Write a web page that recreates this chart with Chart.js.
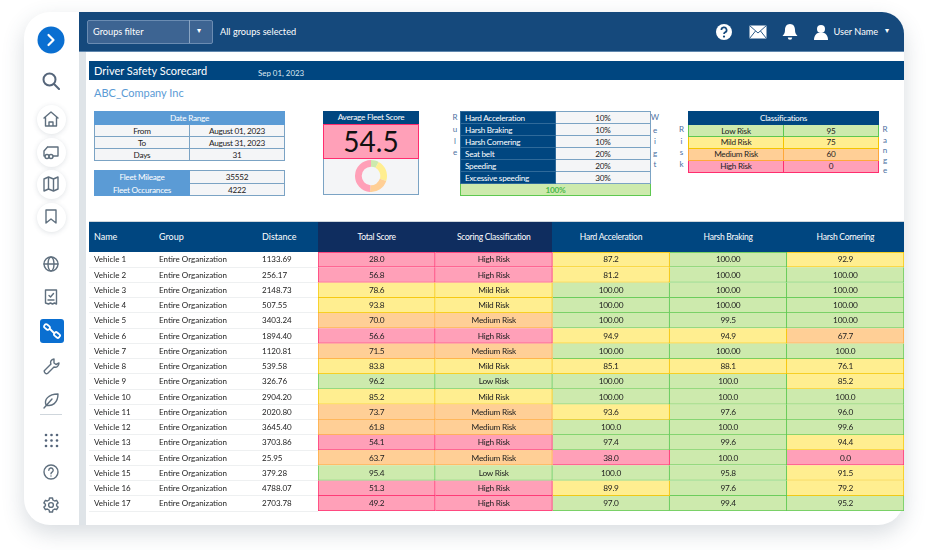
<!DOCTYPE html>
<html><head><meta charset="utf-8">
<script src="https://cdn.jsdelivr.net/npm/chart.js@4"></script>
<style>
html,body{margin:0;padding:0;background:#fff;width:927px;height:550px;overflow:hidden;font-family:Lato,"Open Sans",sans-serif;color:#222}
.a{position:absolute}
#card{left:24px;top:12px;width:880px;height:513px;border-radius:26px;background:#fff;box-shadow:0 8px 22px rgba(60,80,100,.2)}
#strip{left:79px;top:52px;width:7px;height:473px;background:#dfe4e8}
#top{left:79px;top:12px;width:825px;height:40px;background:#15497c;border-top-right-radius:22px;border-bottom:1px solid #5f86ad;box-sizing:border-box}
#filter{left:86.5px;top:19.5px;width:126px;height:24px;background:#3d6492;border:1px solid #6b8cb2;box-sizing:border-box;border-radius:2px}
.w{color:#fff;font-size:9.2px;white-space:nowrap}
table{border-collapse:collapse;table-layout:fixed}
.sm{position:absolute;font-size:8.2px;letter-spacing:-.25px}
.sm td{text-align:center;padding:0;border:1px solid #7ba3c4;background:#f4f5f7;overflow:hidden;white-space:nowrap;box-sizing:border-box;line-height:10px}
.sm td.h{background:#5b9bd5;color:#fff;border-color:#5b9bd5}
.sm td.d{background:#004680;color:#fff;border-color:#2f6a9a;text-align:left;padding-left:4px}
.let{position:absolute;font-size:8px;color:#4a6f9f;width:10px;text-align:center;line-height:10px}
#rows{display:grid;left:89px;top:252.3px;width:815px;grid-template-columns:70px 103px 56px repeat(5,117.2px);grid-template-rows:repeat(17,15.25px);color:#222}
#rows div{white-space:nowrap;overflow:hidden;line-height:14.6px}
#rows div.l{text-align:left;border-bottom:1px solid #eef0f1;font-size:8px;box-sizing:border-box}
#rows div.c{text-align:center;font-size:8.3px;letter-spacing:-.25px}
.hd{position:absolute;top:222px;height:30px;line-height:30px;color:#fff;white-space:nowrap}
svg.i{position:absolute;fill:none;stroke:#5f6f7e;stroke-width:1.4;stroke-linecap:round;stroke-linejoin:round}
.dot{position:absolute;width:29px;height:29px;border-radius:50%;background:#fff;box-shadow:0 1px 5px rgba(60,80,100,.16)}
</style></head><body>
<div class="a" id="card"></div>
<div class="a" id="top"></div>
<div class="a" id="strip"></div>
<div class="a" id="filter"></div>
<div class="a" style="left:189px;top:20px;width:1px;height:23px;background:#8aa5c3"></div>
<div class="a w" style="left:93px;top:26px;">Groups filter</div>
<div class="a w" style="left:197px;top:25px;font-size:8px">▾</div>
<div class="a w" style="left:220px;top:26px;">All groups selected</div>
<div class="a w" style="left:833.5px;top:26px;">User Name</div>
<div class="a w" style="left:885px;top:25px;font-size:8px">▾</div>

<svg class="a" style="left:714px;top:22px" width="20" height="20" viewBox="0 0 20 20"><circle cx="10" cy="10" r="8" fill="#fff"/><path d="M7.4 8a2.6 2.6 0 1 1 3.8 2.3c-.9.5-1.2 1-1.2 1.8" fill="none" stroke="#15497c" stroke-width="1.7"/><circle cx="10" cy="14.6" r="1.1" fill="#15497c"/></svg>
<svg class="a" style="left:749px;top:25px" width="18" height="14" viewBox="0 0 18 14"><rect x=".5" y=".5" width="17" height="13" fill="#fff"/><path d="M.5 .5 9 8 17.500 .5M.5 13.500 6.500 6M17.500 13.500 11.500 6" fill="none" stroke="#15497c" stroke-width=".9"/></svg>
<svg class="a" style="left:781px;top:23px" width="18" height="18" viewBox="0 0 18 18"><path d="M9 1c3.500 0 5 2.800 5 6 0 3 1 4.500 2.500 6h-15C3 11.500 4 10 4 7c0-3.200 1.500-6 5-6z" fill="#fff"/><path d="M6.800 14.500a2.200 2.200 0 0 0 4.400 0z" fill="#fff"/></svg>
<svg class="a" style="left:813px;top:24px" width="16" height="16" viewBox="0 0 16 16"><circle cx="8" cy="5" r="4" fill="#fff"/><path d="M1 16c0-4 2-6.500 4-7h6c2 .5 4 3 4 7z" fill="#fff"/></svg>

<svg class="a" style="left:37px;top:26px" width="28" height="28" viewBox="0 0 28 28"><circle cx="14" cy="14" r="13.500" fill="#0a6fd1"/><path d="M11.500 9l5 5-5 5" fill="none" stroke="#fff" stroke-width="2.200" stroke-linecap="round" stroke-linejoin="round"/></svg>
<svg class="i" style="left:42px;top:72px;stroke-width:2;stroke:#55657a" width="18" height="18" viewBox="0 0 18 18"><circle cx="7.500" cy="7.500" r="6"/><path d="M12 12l5 5"/></svg>
<div id="dots"></div>
<svg class="i" style="left:43px;top:111px" width="16" height="16" viewBox="0 0 16 16"><path d="M1 7 8 1l7 6M2.500 6v9h11V6M6 15v-4h4v4"/></svg>
<svg class="i" style="left:43px;top:144px" width="16" height="16" viewBox="0 0 16 16"><path d="M4.500 3H15v9H10M1 12V7l3.500-4M1 12h1"/><circle cx="4" cy="12.500" r="2"/><circle cx="8" cy="12.500" r="2"/></svg>
<svg class="i" style="left:43px;top:176px" width="16" height="16" viewBox="0 0 16 16"><path d="M1 3l4.500-2 5 2L15 1v12l-4.500 2-5-2L1 15zM5.500 1v12M10.500 3v12"/></svg>
<svg class="i" style="left:44px;top:209px" width="14" height="16" viewBox="0 0 14 16"><path d="M2 1h10v13l-5-4-5 4z"/></svg>
<svg class="i" style="left:43px;top:256px" width="16" height="16" viewBox="0 0 16 16"><circle cx="8" cy="8" r="7"/><ellipse cx="8" cy="8" rx="3" ry="7"/><path d="M1 8h14"/></svg>
<svg class="i" style="left:44px;top:289px" width="14" height="16" viewBox="0 0 14 16"><path d="M1.500 1h11v14l-2-1-2 1-2-1-2 1-3-1zM4 11h6M5 6.500l1.500 1.500L9.500 4.500"/></svg>
<div class="a" style="left:40px;top:319px;width:24px;height:24px;border-radius:3px;background:#0a6fd1"></div>
<svg class="i" style="left:43px;top:322px;stroke:#fff;stroke-width:1.800" width="18" height="18" viewBox="0 0 18 18"><rect x="1" y="3" width="6" height="4" rx="1.500" transform="rotate(40 4 5)"/><rect x="11" y="11" width="6" height="4" rx="1.500" transform="rotate(40 14 13)"/><path d="M7 7l4 4"/></svg>
<svg class="i" style="left:43px;top:358px" width="17" height="17" viewBox="0 0 17 17"><path d="M11 1c-3 .3-4 3-3 5L1.500 12.500c-1 1.500 1.500 4 3 3L11 9c2.500 1 5-1 5-4l-3 1.500-2-1.500z"/></svg>
<svg class="i" style="left:43px;top:392px" width="17" height="17" viewBox="0 0 17 17"><path d="M3 13C1 8 5 2 15 2c0 9-6 13-12 11zM1 16 9 7"/></svg>
<div class="a" style="left:40px;top:414px;width:22px;height:1px;background:#cfd6dc"></div>
<svg class="a" style="left:44px;top:433px" width="15" height="15" viewBox="0 0 15 15" fill="#55657a"><circle cx="2" cy="2" r="1.300"/><circle cx="7.500" cy="2" r="1.300"/><circle cx="13" cy="2" r="1.300"/><circle cx="2" cy="7.500" r="1.300"/><circle cx="7.500" cy="7.500" r="1.300"/><circle cx="13" cy="7.500" r="1.300"/><circle cx="2" cy="13" r="1.300"/><circle cx="7.500" cy="13" r="1.300"/><circle cx="13" cy="13" r="1.300"/></svg>
<svg class="i" style="left:43px;top:464px" width="16" height="16" viewBox="0 0 16 16"><circle cx="8" cy="8" r="7"/><path d="M5.800 6.200a2.200 2.200 0 1 1 3.300 1.900C8.300 8.600 8 9 8 9.800M8 12v.1"/></svg>
<svg class="i" style="left:43px;top:497px" width="16" height="16" viewBox="0 0 16 16"><circle cx="8" cy="8" r="2.400"/><path d="M6.500 1h3l.4 2 1.800 1 1.900-.7 1.500 2.600-1.500 1.300v1.600l1.500 1.300-1.500 2.600-1.900-.7-1.800 1-.4 2h-3l-.4-2-1.800-1-1.900.7L.9 10.100l1.500-1.300V7.200L.9 5.900l1.500-2.600 1.900.7 1.800-1z"/></svg>

<div class="a" style="left:89px;top:61px;width:815px;height:19px;background:#004680"></div>
<div class="a" style="left:94px;top:63px;color:#fff;font-size:11px;line-height:16px">Driver Safety Scorecard</div>
<div class="a" style="left:258px;top:68px;color:#dde8f2;font-size:7.900px;line-height:11px">Sep 01, 2023</div>
<div class="a" style="left:94px;top:85px;color:#5b9bd5;font-size:11px;line-height:16px">ABC_Company Inc</div>

<div id="small"></div>

<div class="a" style="left:323px;top:111px;width:96px;height:13px;background:#004680;color:#fff;font-size:8.200px;letter-spacing:-.25px;line-height:13px;text-align:center">Average Fleet Score</div>
<div class="a" id="scoreBox" style="left:323px;top:124px;width:96px;height:35px;box-sizing:border-box;background:#ffa0b8;border:1px solid #ff2d6e;color:#111;font-size:28px;line-height:33px;text-align:center"></div>
<div class="a" style="left:323px;top:159px;width:96px;height:36px;box-sizing:border-box;background:#f4f5f7;border:1px solid #7ba3c4;border-top:0"></div>
<canvas class="a" id="donut" style="left:355px;top:160px"></canvas>

<div class="a" style="left:89px;top:221px;width:815px;height:31px;background:#004680;border-top:1px solid #cfd6dc;box-sizing:border-box"></div>
<div class="a" style="left:318px;top:222px;width:234px;height:30px;background:#0f2d5f"></div>
<canvas class="a" id="heat" style="left:318px;top:252px"></canvas>
<div id="head"></div>
<div id="rows" class="a"></div>

<script>
const riskLabels = ['Low Risk','Mild Risk','Medium Risk','High Risk'];
const riskRanges = [95,75,60,0];
const donutShares = [8,22,21,49];
const fillColors = ['#cdeaad','#ffee90','#ffcf96','#ffa0b8'];
const edgeColors = ['#5ec850','#f5c400','#ffa83a','#ff2d6e'];

const ruleNames = ['Hard Acceleration','Harsh Braking','Harsh Cornering','Seat belt','Speeding','Excessive speeding'];
const ruleWeights = ['10%','10%','10%','20%','20%','30%'];
const ruleTotal = '100%';
const dateRange = [['From','August 01, 2023'],['To','August 31, 2023'],['Days','31']];
const fleetStats = [['Fleet Mileage','35552'],['Fleet Occurances','4222']];
const averageScore = '54.5';

const vehicles = ['Vehicle 1','Vehicle 2','Vehicle 3','Vehicle 4','Vehicle 5','Vehicle 6','Vehicle 7','Vehicle 8','Vehicle 9','Vehicle 10','Vehicle 11','Vehicle 12','Vehicle 13','Vehicle 14','Vehicle 15','Vehicle 16','Vehicle 17'];
const groupName = 'Entire Organization';
const distances = ['1133.69','256.17','2148.73','507.55','3403.24','1894.40','1120.81','539.58','326.76','2904.20','2020.80','3645.40','3703.86','25.95','379.28','4788.07','2703.78'];
const totalScore = ['28.0','56.8','78.6','93.8','70.0','56.6','71.5','83.8','96.2','85.2','73.7','61.8','54.1','63.7','95.4','51.3','49.2'];
const hardAccel = ['87.2','81.2','100.00','100.00','100.00','94.9','100.00','85.1','100.00','100.00','93.6','100.0','97.4','38.0','100.0','89.9','97.0'];
const harshBrake = ['100.00','100.00','100.00','100.00','99.5','94.9','100.00','88.1','100.0','100.0','97.6','100.0','99.6','100.0','95.8','97.6','99.4'];
const harshCorner = ['92.9','100.00','100.00','100.00','100.00','67.7','100.0','76.1','85.2','100.0','96.0','99.6','94.4','0.0','91.5','79.2','95.2'];
const headers = ['Name','Group','Distance','Total Score','Scoring Classification','Hard Acceleration','Harsh Braking','Harsh Cornering'];

const riskIndex = s => riskRanges.findIndex(r => parseFloat(s) >= r);
const classification = totalScore.map(s => riskLabels[riskIndex(s)]);
const scoreColumns = [totalScore, totalScore, hardAccel, harshBrake, harshCorner];
const textColumns = [totalScore, classification, hardAccel, harshBrake, harshCorner];

document.getElementById('scoreBox').textContent = averageScore;
const small = document.getElementById('small');
function tbl(x,y,cols,rowHs,rows){
  const t=document.createElement('table');t.className='sm';t.style.left=x+'px';t.style.top=y+'px';
  t.style.width=cols.reduce((a,b)=>a+b,0)+'px';
  t.innerHTML='<colgroup>'+cols.map(c=>`<col style="width:${c}px">`).join('')+'</colgroup>'+
    rows.map((r,i)=>`<tr style="height:${rowHs[i]}px">`+r.map(c=>`<td class="${c.k||''}" colspan="${c.s||1}" style="${c.st||''}">${c.t}</td>`).join('')+'</tr>').join('');
  small.appendChild(t);
}
tbl(94,111,[95,95],[13,12,12,12],[[{t:'Date Range',k:'h',s:2}],...dateRange.map(r=>[{t:r[0]},{t:r[1]}])]);
tbl(94,170,[95,95],[13,12],fleetStats.map(r=>[{t:r[0],k:'h'},{t:r[1]}]));
tbl(460,111,[95,95],[12,12,12,12,12,12,12],[...ruleNames.map((n,i)=>[{t:n,k:'d'},{t:ruleWeights[i]}]),
  [{t:ruleTotal,s:2,st:'background:#cdeaad;color:#4cb84a;border-color:#5ec850;font-weight:bold'}]]);
tbl(688,111,[95,95],[13,12,11.500,12,12],[[{t:'Classifications',s:2,st:'background:#004680;color:#fff;border-color:#004680'}],
  ...riskLabels.map((n,i)=>{const st=`background:${fillColors[i]};border-color:${edgeColors[i]}`;return [{t:n,st},{t:riskRanges[i],st}]})]);
function letters(word,x,ys){[...word].forEach((ch,i)=>{const d=document.createElement('div');d.className='let';d.textContent=ch;d.style.left=(x-5)+'px';d.style.top=(ys[i]-5)+'px';small.appendChild(d)})}
letters('Rule',455,[117,129,141,152]);
letters('Weigt',655,[117,129.500,141,153,164]);
letters('Risk',681.500,[129,141,152,164]);
letters('Range',885,[129,140,150,160,170]);

const dots=document.getElementById('dots');
[[36.500,104.500],[36.500,137.500],[36.500,169.500],[36.500,202.500]].forEach(p=>{const d=document.createElement('div');d.className='dot';d.style.left=p[0]+'px';d.style.top=p[1]+'px';dots.appendChild(d)});

const head=document.getElementById('head');
[94,159,262].forEach((x,i)=>{const d=document.createElement('div');d.className='hd';d.style.left=x+'px';d.style.fontSize='9px';d.textContent=headers[i];head.appendChild(d)});
for(let i=0;i<5;i++){const d=document.createElement('div');d.className='hd';d.style.left=(318+117.200*i)+'px';d.style.width='117.2px';d.style.textAlign='center';d.style.fontSize='8.5px';d.style.letterSpacing='-.25px';d.textContent=headers[i+3];head.appendChild(d)}

let html='';
vehicles.forEach((v,i)=>{html+=`<div class="l" style="padding-left:5px">${v}</div><div class="l">${groupName}</div><div class="l">${distances[i]}</div>`+textColumns.map(c=>`<div class="c">${c[i]}</div>`).join('')});
document.getElementById('rows').innerHTML=html;

Chart.defaults.animation=false;
const dc=document.getElementById('donut');dc.width=32;dc.height=32;
new Chart(dc,{type:'doughnut',data:{labels:riskLabels,datasets:[{data:donutShares,backgroundColor:fillColors,borderWidth:0}]},
  options:{responsive:false,cutout:'58%',plugins:{legend:{display:false},tooltip:{enabled:false}}}});

const hc=document.getElementById('heat');hc.width=586;hc.height=259;
const border=col=>ctx=>({top:ctx.dataIndex===0?1:0,left:col===0?1:0,right:1,bottom:1});
new Chart(hc,{type:'bar',data:{labels:vehicles,datasets:scoreColumns.map((col,c)=>({
    label:headers[c+3],data:vehicles.map(()=>1),
    backgroundColor:col.map(s=>fillColors[riskIndex(s)]),
    borderColor:col.map(s=>edgeColors[riskIndex(s)]),
    borderWidth:border(c),borderSkipped:false,barPercentage:1,categoryPercentage:1}))},
  options:{indexAxis:'y',responsive:false,layout:{padding:0},
    scales:{x:{stacked:true,min:0,max:scoreColumns.length,display:false},y:{stacked:true,display:false}},
    plugins:{legend:{display:false},tooltip:{enabled:false}}}});
</script>
</body></html>
